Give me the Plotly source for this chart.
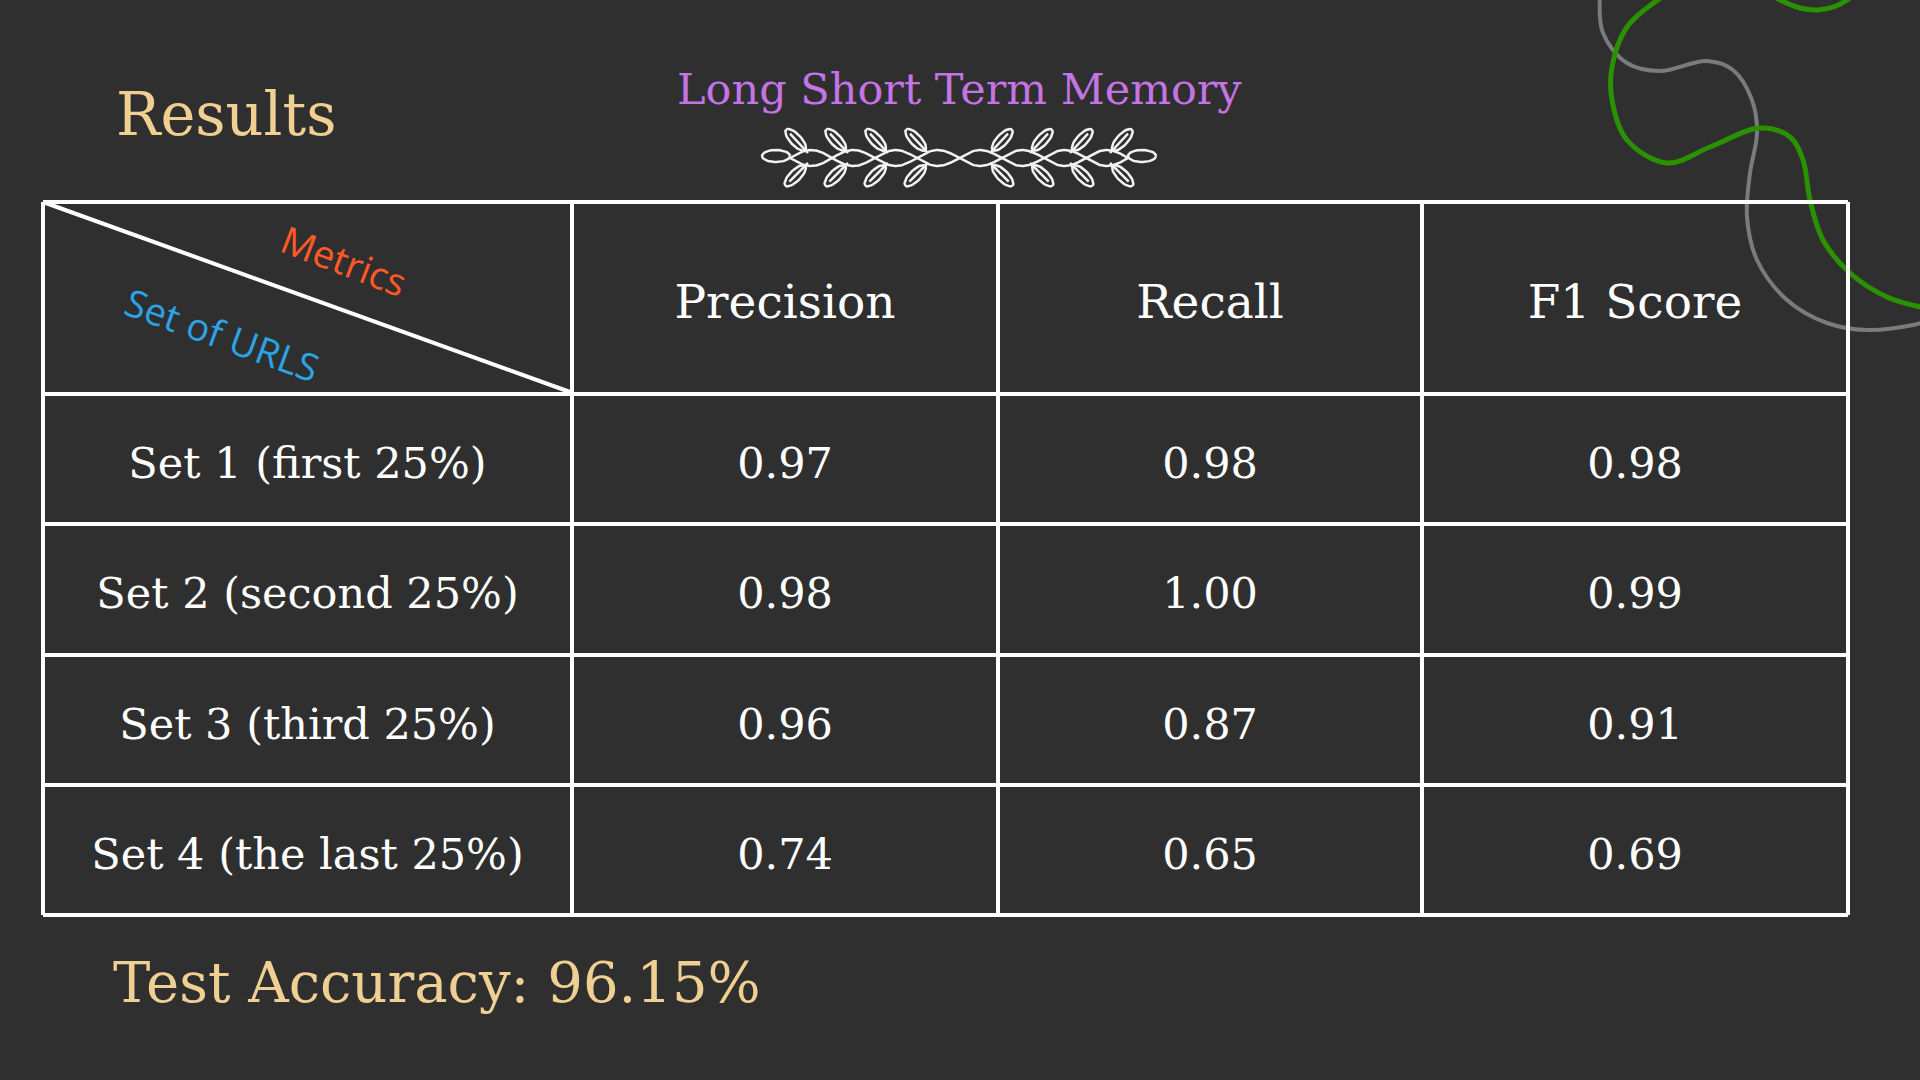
import numpy as np
import plotly.graph_objects as go

# palette picked from the slide
BG = "#2f2f2f"
TAN = "#efcf92"
PURPLE = "#c474e4"
ORANGE = "#ff5a26"
BLUE = "#2aa4e4"
GREEN = "#2a9200"
GREY = "#7b7a7c"
SERIF = "DejaVu Serif"

# table content
set_labels = ["Set 1 (first 25%)", "Set 2 (second 25%)", "Set 3 (third 25%)", "Set 4 (the last 25%)"]
metric_names = ["Precision", "Recall", "F1 Score"]
precision = [0.97, 0.98, 0.96, 0.74]
recall = [0.98, 1.00, 0.87, 0.65]
f1_score = [0.98, 0.99, 0.91, 0.69]
test_accuracy = 96.15

# table grid in page pixels
col_edges = [43, 572, 998, 1422, 1848]
row_edges = [202, 394, 524, 655, 785, 915]
TEXT_DY = 8  # nudge so the caps sit in the middle of a cell


def centers(edges):
    return [(a + b) / 2 for a, b in zip(edges[:-1], edges[1:])]


col_mid = centers(col_edges)
row_mid = [y + TEXT_DY for y in centers(row_edges)]

fig = go.Figure()

# grid lines
shapes = []
for x in col_edges:
    shapes.append(dict(type="line", x0=x, x1=x, y0=row_edges[0], y1=row_edges[-1],
                       line=dict(color="white", width=4)))
for y in row_edges:
    shapes.append(dict(type="line", x0=col_edges[0], x1=col_edges[-1], y0=y, y1=y,
                       line=dict(color="white", width=4)))
# diagonal in the corner cell
shapes.append(dict(type="line", x0=col_edges[0], y0=row_edges[0], x1=col_edges[1] - 2, y1=row_edges[1] - 2,
                   line=dict(color="white", width=4)))

# header
fig.add_trace(go.Scatter(
    x=col_mid[1:], y=[row_mid[0]] * len(metric_names), mode="text", text=metric_names,
    textfont=dict(family=SERIF, size=47, color="white"), hoverinfo="skip"))

# row labels
fig.add_trace(go.Scatter(
    x=[col_mid[0]] * len(set_labels), y=row_mid[1:], mode="text", text=set_labels,
    textfont=dict(family=SERIF, size=43, color="white"), hoverinfo="skip"))

# values, one column per metric
for j, vals in enumerate([precision, recall, f1_score]):
    fig.add_trace(go.Scatter(
        x=[col_mid[j + 1]] * len(vals), y=row_mid[1:], mode="text",
        text=[f"{v:.2f}" for v in vals],
        textfont=dict(family=SERIF, size=43, color="white"), hoverinfo="skip"))


# --- decorations -------------------------------------------------------------
def leaf(bx, by, dx, dy, length=28, half_w=5.5, stem=4):
    n = np.hypot(dx, dy)
    ux, uy = dx / n, dy / n
    px, py = -uy, ux
    t = np.linspace(0, 2 * np.pi, 40)
    cx, cy = bx + ux * (stem + length / 2), by + uy * (stem + length / 2)
    xs = cx + ux * (length / 2) * np.cos(t) + px * half_w * np.sin(t)
    ys = cy + uy * (length / 2) * np.cos(t) + py * half_w * np.sin(t)
    rib_x = [bx, cx + ux * length * 0.3]
    rib_y = [by, cy + uy * length * 0.3]
    return list(xs) + [None] + rib_x + [None], list(ys) + [None] + rib_y + [None]


vx, vy = [], []
mid_x, mid_y = 959, 158
xs = np.linspace(790, 1128, 400)
wave = 8 * np.sin(np.pi * (xs - 790) / 42.25)
vx += list(xs) + [None] + list(xs) + [None]
vy += list(mid_y + wave) + [None] + list(mid_y - wave) + [None]
t = np.linspace(0, 2 * np.pi, 50)
for cx in (776, 1142):
    vx += list(cx + 14 * np.cos(t)) + [None]
    vy += list(mid_y - 2 + 6 * np.sin(t)) + [None]
for k, bx in enumerate([808, 848, 888, 928]):
    for side in (-1, 1):
        x0 = bx if side == -1 else 2 * mid_x - bx
        for up in (True, False):
            lx, ly = leaf(x0, mid_y - 5 if up else mid_y + 5,
                          0.7 * side, -0.75 if up else 0.7)
            vx += lx
            vy += ly
fig.add_trace(go.Scatter(x=vx, y=vy, mode="lines", line=dict(color="#f2f2f2", width=2.5),
                         hoverinfo="skip"))

grey_x = [1600, 1603, 1627, 1660, 1707, 1733, 1752, 1757, 1750, 1747, 1757, 1787, 1827, 1867, 1913, 1930]
grey_y = [-5, 33, 63, 71, 61, 70, 100, 133, 173, 217, 260, 300, 323, 330, 325, 320]
green_x = [1665, 1627, 1612, 1612, 1627, 1667, 1710, 1760, 1790, 1803, 1810, 1823, 1850, 1887, 1925]
green_y = [-5, 27, 67, 100, 140, 163, 147, 128, 137, 160, 200, 240, 273, 297, 308]
green2_x = [1776, 1800, 1818, 1836, 1850]
green2_y = [-2, 8, 10, 6, -2]
fig.add_trace(go.Scatter(x=grey_x, y=grey_y, mode="lines", line=dict(color=GREY, width=4, shape="spline"),
                         hoverinfo="skip"))
fig.add_trace(go.Scatter(x=green_x, y=green_y, mode="lines", line=dict(color=GREEN, width=5, shape="spline"),
                         hoverinfo="skip"))
fig.add_trace(go.Scatter(x=green2_x, y=green2_y, mode="lines", line=dict(color=GREEN, width=5, shape="spline"),
                         hoverinfo="skip"))

annotations = [
    dict(x=114, y=114, text="Results", xanchor="left", yanchor="middle", showarrow=False,
         font=dict(family=SERIF, size=59, color=TAN)),
    dict(x=959, y=89, text="Long Short Term Memory", xanchor="center", yanchor="middle", showarrow=False,
         font=dict(family=SERIF, size=43, color=PURPLE)),
    dict(x=111, y=982, text=f"Test Accuracy: {test_accuracy:.2f}%", xanchor="left", yanchor="middle",
         showarrow=False, font=dict(family=SERIF, size=56, color=TAN)),
    dict(x=344, y=260, text="Metrics", textangle=21, showarrow=False,
         font=dict(family="Open Sans", size=38, color=ORANGE)),
    dict(x=222, y=334, text="Set of URLS", textangle=20, showarrow=False,
         font=dict(family="Open Sans", size=38, color=BLUE)),
]

fig.update_layout(
    width=1920, height=1080,
    margin=dict(l=0, r=0, t=0, b=0),
    paper_bgcolor=BG, plot_bgcolor=BG,
    showlegend=False,
    xaxis=dict(range=[0, 1920], visible=False, fixedrange=True),
    yaxis=dict(range=[1080, 0], visible=False, fixedrange=True),
    shapes=shapes,
    annotations=annotations,
)

fig.write_html("out.html", config={"displayModeBar": False},
               post_script="document.body.style.margin='0px';")
